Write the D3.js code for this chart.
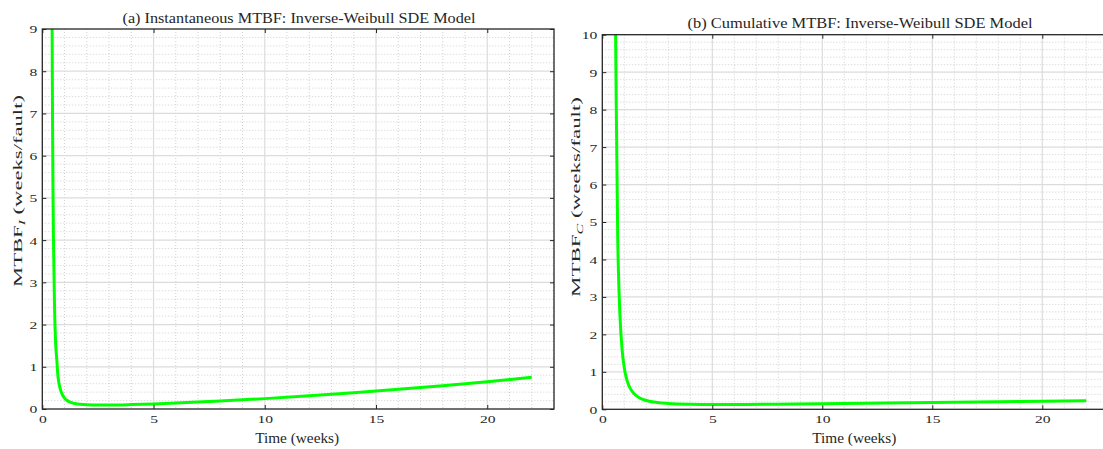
<!DOCTYPE html>
<html><head><meta charset="utf-8">
<script src="https://cdn.jsdelivr.net/npm/d3@7"></script>
<style>
body{margin:0;background:#fff;}
svg{display:block;font-family:"Liberation Serif","Times New Roman",serif;}
</style></head>
<body>
<svg id="chart" width="1103" height="449"></svg>
<script>
// ---- data ----
const timeInst = [0.42,0.44,0.46,0.48,0.5,0.55,0.6,0.65,0.7,0.75,0.8,0.9,1.0,1.1,1.2,1.4,1.7,2,2.5,3,4,5,6,8,10,12,14,16,18,20,22];
const mtbfInst = [12.67,9.17,6.84,5.23,4.086,2.403,1.553,1.182,0.795,0.612,0.489,0.340,0.258,0.208,0.1756,0.1377,0.111,0.0992,0.0927,0.0933,0.1037,0.12,0.1401,0.1884,0.2457,0.3113,0.3846,0.4651,0.5534,0.648,0.7498];
const timeCum = [0.55,0.58,0.6,0.65,0.7,0.75,0.8,0.9,1.0,1.1,1.2,1.4,1.7,2,2.5,3,4,5,6,8,10,12,14,16,18,20,22];
const mtbfCum = [17.13,12.48,10.28,7.31,4.615,3.348,2.532,1.594,1.105,0.8214,0.6436,0.4425,0.3023,0.2353,0.1817,0.1566,0.1361,0.1302,0.1301,0.1369,0.1476,0.1601,0.1734,0.1872,0.2014,0.2156,0.2299];
const xTicks = [0,5,10,15,20];
const yTicksInst = [0,1,2,3,4,5,6,7,8,9];
const yTicksCum = [0,1,2,3,4,5,6,7,8,9,10];
const titleInst = "(a) Instantaneous MTBF: Inverse-Weibull SDE Model";
const titleCum = "(b) Cumulative MTBF: Inverse-Weibull SDE Model";
const xLabel = "Time (weeks)";

const svg = d3.select("#chart");
const axisColor = "#262626";
const textColor = "#262626";

function panel(cfg){
  const g = svg.append("g");
  const x = d3.scaleLinear().domain([0,23]).range([cfg.left, cfg.right]);
  const y = d3.scaleLinear().domain([0,cfg.ymax]).range([cfg.bottom, cfg.top]);
  const clipId = "clip"+cfg.id;
  svg.append("clipPath").attr("id",clipId).append("rect")
    .attr("x",cfg.left).attr("y",cfg.top).attr("width",cfg.right-cfg.left).attr("height",cfg.bottom-cfg.top);
  // minor grid
  const minorX = x.ticks(23).filter(v=>v%5!==0);
  const minorY = y.ticks(cfg.ymax*5).filter(v=>Math.abs(v-Math.round(v))>1e-6);
  g.append("g").selectAll("line").data(minorX).join("line")
    .attr("x1",d=>x(d)).attr("x2",d=>x(d)).attr("y1",cfg.top).attr("y2",cfg.bottom)
    .attr("stroke","#c4c4c4").attr("stroke-width",0.8).attr("stroke-dasharray","1,2");
  g.append("g").selectAll("line").data(minorY).join("line")
    .attr("y1",d=>y(d)).attr("y2",d=>y(d)).attr("x1",cfg.left).attr("x2",cfg.right)
    .attr("stroke","#c4c4c4").attr("stroke-width",0.8).attr("stroke-dasharray","1,2");
  // major grid
  g.append("g").selectAll("line").data(xTicks.filter(v=>v>0)).join("line")
    .attr("x1",d=>x(d)).attr("x2",d=>x(d)).attr("y1",cfg.top).attr("y2",cfg.bottom)
    .attr("stroke","#dcdcdc").attr("stroke-width",1.2);
  g.append("g").selectAll("line").data(cfg.yTicks.filter(v=>v>0 && v<cfg.ymax)).join("line")
    .attr("y1",d=>y(d)).attr("y2",d=>y(d)).attr("x1",cfg.left).attr("x2",cfg.right)
    .attr("stroke","#dcdcdc").attr("stroke-width",1.2);
  // curve
  const line = d3.line().x(d=>x(d[0])).y(d=>y(d[1])).curve(d3.curveMonotoneX);
  g.append("path").datum(d3.zip(cfg.tx, cfg.ty))
    .attr("clip-path","url(#"+clipId+")")
    .attr("d",line).attr("fill","none").attr("stroke","#00ff00").attr("stroke-width",3)
    .attr("stroke-linejoin","round");
  // axes
  const styleAxis = sel => {
    sel.select(".domain").remove();
    sel.attr("font-family","Liberation Serif, serif");
    sel.selectAll(".tick line").attr("stroke",axisColor).attr("stroke-width",1);
    sel.selectAll(".tick text").attr("fill",textColor).attr("font-size",11)
      .attr("lengthAdjust","spacingAndGlyphs")
      .attr("textLength",function(){ const t=this.textContent; return t ? 7.8*t.length : null; });
  };
  g.append("g").attr("transform",`translate(0,${cfg.bottom})`)
    .call(d3.axisBottom(x).tickValues(xTicks).tickSize(-4).tickPadding(0).tickFormat(d3.format("d")))
    .call(styleAxis)
    .call(s=>s.selectAll(".tick text").attr("dy",null).attr("y",14));
  g.append("g").attr("transform",`translate(0,${cfg.top})`)
    .call(d3.axisTop(x).tickValues(xTicks).tickSize(-4).tickFormat("")).call(styleAxis);
  g.append("g").attr("transform",`translate(${cfg.left},0)`)
    .call(d3.axisLeft(y).tickValues(cfg.yTicks).tickSize(-4).tickPadding(0).tickFormat(d3.format("d")))
    .call(styleAxis)
    .call(s=>s.selectAll(".tick text").attr("x",-5).attr("dy","0.36em"));
  g.append("g").attr("transform",`translate(${cfg.right},0)`)
    .call(d3.axisRight(y).tickValues(cfg.yTicks).tickSize(-4).tickFormat("")).call(styleAxis);
  g.append("rect").attr("x",cfg.left).attr("y",cfg.top).attr("width",cfg.right-cfg.left).attr("height",cfg.bottom-cfg.top)
    .attr("fill","none").attr("stroke",axisColor).attr("stroke-width",1.3);
  // title
  g.append("text").attr("x",cfg.titleX).attr("y",cfg.titleY)
    .attr("text-anchor","middle").attr("font-size",14).attr("fill",textColor)
    .attr("textLength",cfg.titleW).attr("lengthAdjust","spacingAndGlyphs").text(cfg.title);
  // x label
  g.append("text").attr("x",(cfg.left+cfg.right)/2 - 1).attr("y",443.3)
    .attr("text-anchor","middle").attr("font-size",14).attr("fill",textColor)
    .attr("textLength",84).attr("lengthAdjust","spacingAndGlyphs").text(xLabel);
  // y label
  const yl = g.append("text").attr("transform",`translate(${cfg.ylx},${cfg.ylc}) rotate(-90)`)
    .attr("text-anchor","middle").attr("font-size",13).attr("fill",textColor)
    .attr("textLength",cfg.ylw).attr("lengthAdjust","spacingAndGlyphs");
  yl.append("tspan").text("MTBF");
  yl.append("tspan").attr("font-style","italic").attr("font-size",9).attr("dy",3).text(cfg.sub);
  yl.append("tspan").attr("dy",-3).text(" (weeks/fault)");
}

panel({id:"a",left:42.3,right:554,top:29,bottom:409,ymax:9,yTicks:yTicksInst,tx:timeInst,ty:mtbfInst,
  title:titleInst,titleX:299,titleY:23.3,titleW:353,sub:"I",ylx:22,ylc:191,ylw:192});
panel({id:"b",left:602.3,right:1108.3,top:34.7,bottom:409.3,ymax:10,yTicks:yTicksCum,tx:timeCum,ty:mtbfCum,
  title:titleCum,titleX:860,titleY:27.7,titleW:345,sub:"C",ylx:580,ylc:197,ylw:200});
</script>
</body></html>
